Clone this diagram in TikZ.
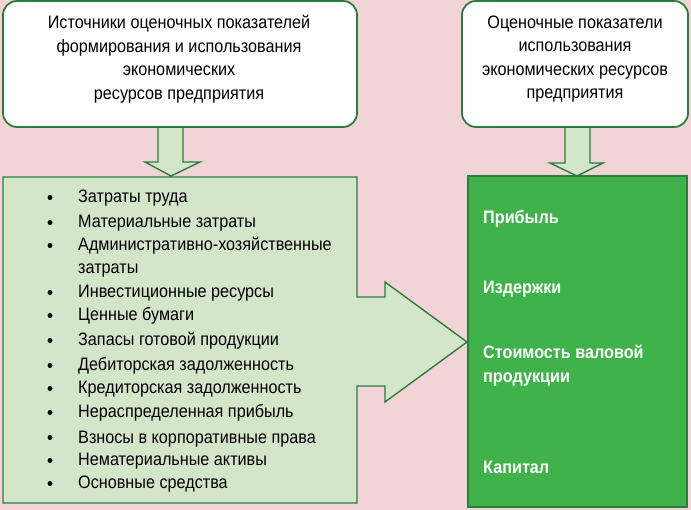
\documentclass[tikz,border=0pt]{standalone}
\usepackage{fontspec}
\setmainfont{Liberation Sans}[FakeStretch=0.9]
\definecolor{bg}{HTML}{F2D4D7}
\definecolor{lg}{HTML}{D4E6CA}
\definecolor{dg}{HTML}{2A7D3C}
\definecolor{mg}{HTML}{3FB34A}
\begin{document}
\begin{tikzpicture}[x=1pt,y=-1pt,
  box/.style={draw=dg, line width=1.8pt, fill=white, rounded corners=14pt, inner sep=0pt},
  ttl/.style={align=center, inner sep=0pt, font=\fontsize{18}{23.5}\selectfont},
  blk/.style={draw=dg, line width=1.4pt, fill=lg, line join=miter},
  item/.style={anchor=base west, inner sep=0pt, font=\fontsize{18}{20}\selectfont},
  dot/.style={circle, fill=black, inner sep=0pt, minimum size=5pt},
  val/.style={anchor=base west, inner sep=0pt, text=white, font=\fontsize{18}{20}\selectfont\bfseries}]
\fill[bg] (0,0) rectangle (691,510);
\useasboundingbox (0,0) rectangle (691,510);
% lower left block with right arrow
\draw[blk] (3,177) -- (357,177) -- (357,297) -- (385,297) -- (385,282) -- (467,342)
  -- (385,402) -- (385,386) -- (357,386) -- (357,503) -- (3,503) -- cycle;
\coordinate (tip) at (467,342);
% right result box
\node[draw=dg, line width=1.6pt, fill=mg, minimum width=219pt, minimum height=331pt, inner sep=0pt] (rb) at (577.5,341.5) {};
% down arrows
\draw[blk] (158,118) -- (158,162) -- (145,162) -- (171,176) -- (200,162) -- (183,162) -- (183,118);
\draw[blk] (565,118) -- (565,163) -- (550,163) -- (577,176) -- (603,163) -- (590,163) -- (590,118);
% top boxes
\node[box, minimum width=354pt, minimum height=126pt] (tl) at (180,64) {};
\node[box, minimum width=226pt, minimum height=126pt] (tr) at (575,64) {};
\node[ttl] (tlt) at (179,59) {Источники оценочных показателей\\формирования и использования\\экономических\\ресурсов предприятия};
\node[ttl] (trt) at (575,59) {Оценочные показатели\\использования\\экономических ресурсов\\предприятия};
% list
\node[item] (i1) at (78,203) {Затраты труда};
\node[item] (i2) at (78,228) {Материальные затраты};
\node[item] (i3) at (78,251) {Административно-хозяйственные};
\node[item] (i3b) at (78,274) {затраты};
\node[item] (i4) at (78,298) {Инвестиционные ресурсы};
\node[item] (i5) at (78,321) {Ценные бумаги};
\node[item] (i6) at (78,346) {Запасы готовой продукции};
\node[item] (i7) at (78,371) {Дебиторская задолженность};
\node[item] (i8) at (78,394) {Кредиторская задолженность};
\node[item] (i9) at (78,418) {Нераспределенная прибыль};
\node[item] (i10) at (78,443) {Взносы в корпоративные права};
\node[item] (i11) at (78,466) {Нематериальные активы};
\node[item] (i12) at (78,489) {Основные средства};
\foreach \y/\n in {203/1,228/2,251/3,298/4,321/5,346/6,371/7,394/8,418/9,443/10,466/11,489/12}
  \node[dot] (d\n) at (50,\y-5.5) {};
% values
\node[val] (v1) at (483,224) {Прибыль};
\node[val] (v2) at (483,294) {Издержки};
\node[val] (v3) at (483,359) {Стоимость валовой};
\node[val] (v3b) at (483,383) {продукции};
\node[val] (v4) at (483,474) {Капитал};
\end{tikzpicture}
\end{document}
